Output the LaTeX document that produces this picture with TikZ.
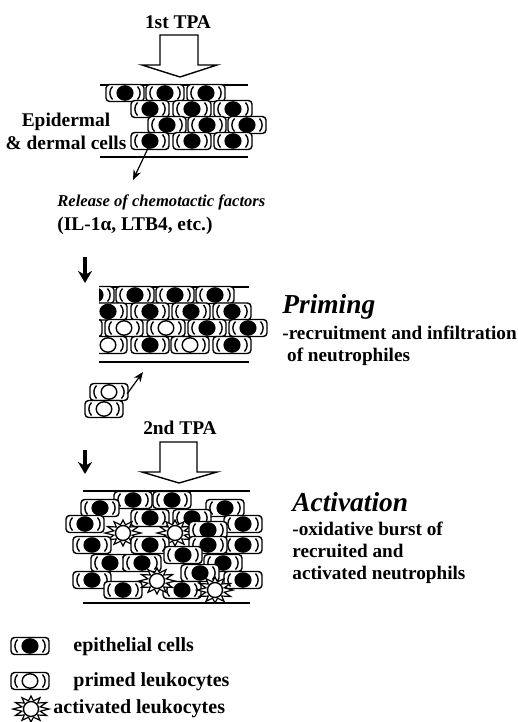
\documentclass[tikz,border=0pt]{standalone}
\usepackage{fontspec}
\setmainfont{Liberation Serif}
\usetikzlibrary{arrows.meta}

\tikzset{
  wall/.style={draw=black,line width=0.7pt,rounded corners=1.8pt,fill=white},
  layer/.style={line width=0.9pt},
  lbl/.style={font=\bfseries\fontsize{9.7}{11.5}\selectfont,inner sep=0pt},
  desc/.style={font=\bfseries\fontsize{9.6}{11}\selectfont,inner sep=0pt,align=left},
  key/.style={font=\bfseries\fontsize{10}{12}\selectfont,inner sep=0pt,anchor=west},
  head/.style={font=\bfseries\itshape\fontsize{13.7}{15}\selectfont,inner sep=0pt,anchor=west},
  tpa/.style={draw=black,line width=0.7pt,fill=white},
  thin arrow/.style={line width=0.6pt,-{Stealth[length=5pt,width=4pt]}},
  thick arrow/.style={line width=2pt,-{Stealth[length=6pt,width=7pt]}},
  % epithelial cell and primed leukocyte
  epi/.pic={
    \draw[wall] (-19,-8.5) rectangle (19,8.5);
    \draw[line width=0.7pt] (-12.5,-6.5) .. controls (-16,-3) and (-16,3) .. (-12.5,6.5);
    \draw[line width=0.7pt] (12.5,-6.5) .. controls (16,-3) and (16,3) .. (12.5,6.5);
    \fill (0,0) ellipse (8.6 and 7.8);
  },
  prim/.pic={
    \draw[wall] (-19,-8.5) rectangle (19,8.5);
    \draw[line width=0.7pt] (-12.5,-6.5) .. controls (-16,-3) and (-16,3) .. (-12.5,6.5);
    \draw[line width=0.7pt] (12.5,-6.5) .. controls (16,-3) and (16,3) .. (12.5,6.5);
    \draw[line width=0.7pt,fill=white] (0,0) ellipse (7.8 and 7.2);
  },
  % activated leukocyte
  act/.pic={
    \draw[line width=0.6pt,fill=white] (18,0)
      \foreach \i in {1,...,23} {
        -- ({(mod(\i,2)==0 ? 18 : 9.5)*cos(\i*15)},{(mod(\i,2)==0 ? 13 : 8.5)*sin(\i*15)}) } -- cycle;
    \draw[line width=0.7pt,fill=white] (0,0) circle (7.5);
  },
}

\begin{document}
\begin{tikzpicture}[x=0.5pt,y=-0.5pt]
\useasboundingbox (0,0) rectangle (518,722);

% first application
\node[lbl] (tpa1) at (178,22) {1st TPA};
\draw[tpa] (160,35) -- (198,35) -- (198,65) -- (217,65) -- (180,77) -- (142,65) -- (160,65) -- cycle;

\draw[layer] (100,85) -- (248,85);
\foreach \x in {125,165,206} \pic at (\x,93) {epi};
\foreach \x in {150,192,233} \pic at (\x,109) {epi};
\foreach \x in {167,207,247} \pic at (\x,125) {epi};
\foreach \x in {150,192,233} \pic at (\x,141) {epi};
\draw[layer] (100,157) -- (248,157);
\coordinate (src) at (150,144);

\node[lbl,align=center] (epid) at (66,131) {Epidermal\\\& dermal cells};

\node[anchor=north west,inner sep=0pt] (release) at (57,194)
  {\bfseries\itshape\fontsize{8.3}{9}\selectfont Release of chemotactic factors};
\node[lbl,anchor=north west] (factors) at (57,217) {(IL-1α, LTB4, etc.)};
\coordinate (rel) at (133,180);
\draw[thin arrow] (src) -- (rel);

\coordinate (d1a) at (85,257);
\coordinate (d1b) at (85,283);
\draw[thick arrow] (d1a) -- (d1b);

% priming
\draw[layer] (99,287) -- (249,287);
\begin{scope}
\clip (99,280) rectangle (280,370);
\foreach \x in {95,135,175,215} \pic at (\x,295) {epi};
\foreach \x in {108,150,191,232} \pic at (\x,311.5) {epi};
\foreach \x/\t in {83/epi,124/prim,166/prim,207/epi,248/epi} \pic at (\x,328) {\t};
\foreach \x/\t in {108/prim,150/epi,190/prim,232/epi} \pic at (\x,345) {\t};
\end{scope}
\draw[layer] (99,362) -- (249,362);

\node[head] (priming) at (282,307) {Priming};
\node[desc,anchor=north west] (primtxt) at (282,326)
  {-recruitment and infiltration\\\ of neutrophiles};

% neutrophils entering from the vessel
\pic at (109,392) {prim};
\pic at (104,409) {prim};
\coordinate (inA) at (127,394);
\coordinate (inB) at (143,372);
\draw[thin arrow] (inA) -- (inB);

% second application
\node[lbl] (tpa2) at (180,428) {2nd TPA};
\draw[tpa] (160,442) -- (197,442) -- (197,472) -- (217,472) -- (179,483) -- (142,472) -- (160,472) -- cycle;

\coordinate (d2a) at (85,450);
\coordinate (d2b) at (85,474);
\draw[thick arrow] (d2a) -- (d2b);

% activation
\draw[layer] (83,491) -- (250,491);
\foreach \x/\y in {133/500,172/500,100/508,225/508,150/518,192/518,85/524,243/524} \pic at (\x,\y) {epi};
\pic at (123,533) {act};
\pic at (175,533) {act};
\foreach \x/\y in {208/530,92/545,150/545,243/545,208/545,183/555,110/563,142/563,223/563,200/573,92/580,243/580,123/590,182/590} \pic at (\x,\y) {epi};
\pic at (157,581) {act};
\pic at (215,590) {act};
\draw[layer] (83,603) -- (250,603);

\node[head] (activ) at (292,502) {Activation};
\node[desc,anchor=north west] (activtxt) at (292,522)
  {-oxidative burst of\\recruited and\\activated neutrophils};

% key
\pic at (30,646) {epi};
\pic at (30,681) {prim};
\pic at (31,709) {act};
\node[key] (k1) at (73,647) {epithelial cells};
\node[key] (k2) at (73,682) {primed leukocytes};
\node[key] (k3) at (53,709) {activated leukocytes};
\end{tikzpicture}
\end{document}
